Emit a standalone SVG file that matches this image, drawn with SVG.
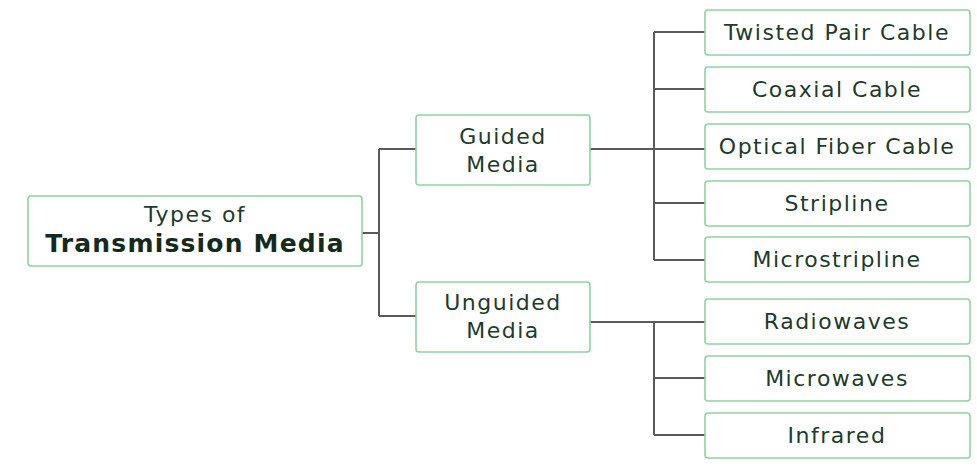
<svg xmlns="http://www.w3.org/2000/svg" width="977" height="470" viewBox="0 0 977 470">
<style>
.box{fill:#fff;stroke:#8fd3a2;stroke-width:1.6}
.t{font-family:"DejaVu Sans","Noto Sans",sans-serif;font-size:22px;letter-spacing:1.5px;fill:#1e3b2a;text-anchor:middle;dominant-baseline:central}
.big{font-size:25px;letter-spacing:1.2px;font-weight:600;fill:#142a1c}
.ln{stroke:#5a5a5a;stroke-width:2;fill:none}
</style>
<rect width="977" height="470" fill="#fff"/>
<g id="connectors">
<path class="ln" d="M362 233H379M379 149V316M379 149H416M379 316H416"/>
<path class="ln" d="M590 149H705M654 32V260M654 32H705M654 89H705M654 203H705M654 260H705"/>
<path class="ln" d="M590 322H705M654 322V435M654 378H705M654 435H705"/>
</g>
<g id="root"><rect class="box" x="28" y="196" width="334" height="70" rx="3"/>
<text class="t" x="195" y="214">Types of</text><text class="t big" x="195" y="243">Transmission Media</text></g>
<g id="guided"><rect class="box" x="416" y="115" width="174" height="70" rx="3"/>
<text class="t" x="503" y="136">Guided</text><text class="t" x="503" y="164">Media</text></g>
<g id="unguided"><rect class="box" x="416" y="282" width="174" height="70" rx="3"/>
<text class="t" x="503" y="302">Unguided</text><text class="t" x="503" y="330">Media</text></g>
<g id="twisted"><rect class="box" x="705" y="10" width="265" height="45" rx="3"/><text class="t" x="837" y="32">Twisted Pair Cable</text></g>
<g id="coaxial"><rect class="box" x="705" y="67" width="265" height="45" rx="3"/><text class="t" x="837" y="89">Coaxial Cable</text></g>
<g id="optical"><rect class="box" x="705" y="124" width="265" height="45" rx="3"/><text class="t" x="837" y="146">Optical Fiber Cable</text></g>
<g id="stripline"><rect class="box" x="705" y="181" width="265" height="45" rx="3"/><text class="t" x="837" y="203">Stripline</text></g>
<g id="microstripline"><rect class="box" x="705" y="237" width="265" height="45" rx="3"/><text class="t" x="837" y="259">Microstripline</text></g>
<g id="radiowaves"><rect class="box" x="705" y="299" width="265" height="45" rx="3"/><text class="t" x="837" y="321">Radiowaves</text></g>
<g id="microwaves"><rect class="box" x="705" y="356" width="265" height="45" rx="3"/><text class="t" x="837" y="378">Microwaves</text></g>
<g id="infrared"><rect class="box" x="705" y="413" width="265" height="45" rx="3"/><text class="t" x="837" y="435">Infrared</text></g>
</svg>
